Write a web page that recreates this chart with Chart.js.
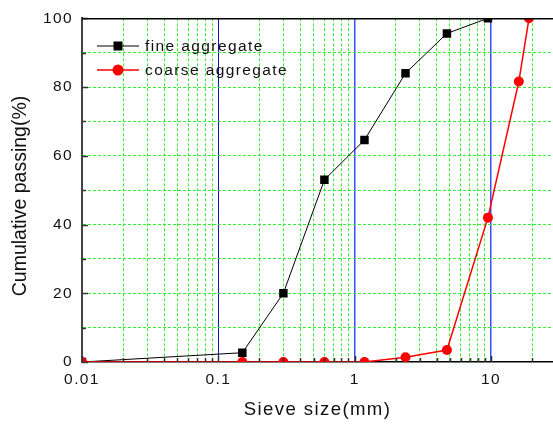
<!DOCTYPE html>
<html>
<head>
<meta charset="utf-8">
<script src="https://cdn.jsdelivr.net/npm/chart.js@4"></script>
<style>
  html, body { margin: 0; padding: 0; background: #fff; }
  #wrap { width: 553px; height: 424px; }
</style>
</head>
<body>
<div id="wrap"><canvas id="chart"></canvas></div>
<script>
// sieve sizes (mm) and cumulative passing (%)
const fineSizes = [0.01, 0.15, 0.3, 0.6, 1.18, 2.36, 4.75, 9.5];
const finePassing = [0, 2.7, 20, 53, 64.6, 84, 95.6, 100];
const coarseSizes = [0.01, 0.15, 0.3, 0.6, 1.18, 2.36, 4.75, 9.5, 16, 19];
const coarsePassing = [0, 0, 0, 0, 0, 1.4, 3.5, 42, 81.6, 100];

// axis ticks
const xTickValues = [
    0.01, 0.02, 0.03, 0.04, 0.05, 0.06, 0.07, 0.08, 0.09,
    0.1, 0.2, 0.3, 0.4, 0.5, 0.6, 0.7, 0.8, 0.9,
    1, 2, 3, 4, 5, 6, 7, 8, 9,
    10, 20
];
const xTickLabels = ['0.01', '0.1', '1', '10'];
const yTickLabels = ['0', '20', '40', '60', '80', '100'];
const yTitle = 'Cumulative passing(%)';

const FONT = '"Liberation Sans", Arial, sans-serif';
const SPACING = '1.4px';

function isDecade(v) {
    const l = Math.log10(v);
    return Math.abs(l - Math.round(l)) < 1e-9;
}

function toPoints(xs, ys) {
    return xs.map((x, i) => ({ x: x, y: ys[i] }));
}

// 文字间距(参考图字体较宽)
const spacingPlugin = {
    id: 'spacing',
    beforeLayout(chart) { chart.ctx.letterSpacing = SPACING; },
    beforeDraw(chart) { chart.ctx.letterSpacing = SPACING; }
};

// 内侧刻度线 + 上边框 + 图例 + 纵轴标题
const framePlugin = {
    id: 'frame',
    afterDatasetsDraw(chart) {
        const ctx = chart.ctx;
        const area = chart.chartArea;
        const xs = chart.scales.x;
        const ys = chart.scales.y;

        ctx.save();
        ctx.strokeStyle = '#333';
        ctx.lineWidth = 1.5;
        xs.ticks.forEach(t => {
            const px = Math.round(xs.getPixelForValue(t.value)) + 0.5;
            const len = isDecade(t.value) ? 6 : 4;
            ctx.beginPath();
            ctx.moveTo(px, area.bottom);
            ctx.lineTo(px, area.bottom - len);
            ctx.stroke();
        });
        ys.ticks.forEach(t => {
            const py = Math.round(ys.getPixelForValue(t.value)) + 0.5;
            const len = t.value % 20 === 0 ? 6 : 4;
            ctx.beginPath();
            ctx.moveTo(area.left, py);
            ctx.lineTo(area.left + len, py);
            ctx.stroke();
        });

        // top frame line
        ctx.strokeStyle = '#000';
        ctx.lineWidth = 1.5;
        ctx.beginPath();
        ctx.moveTo(area.left, area.top + 0.5);
        ctx.lineTo(area.right, area.top + 0.5);
        ctx.stroke();

        // legend
        ctx.font = '15.5px ' + FONT;
        ctx.textBaseline = 'middle';
        ctx.textAlign = 'left';
        chart.data.datasets.forEach((ds, i) => {
            const y = 46 + i * 24;
            ctx.strokeStyle = ds.borderColor;
            ctx.lineWidth = ds.borderWidth;
            ctx.beginPath();
            ctx.moveTo(97, y);
            ctx.lineTo(139, y);
            ctx.stroke();
            ctx.fillStyle = ds.pointBackgroundColor;
            ctx.beginPath();
            if (ds.pointStyle === 'rect') {
                ctx.rect(118 - 4.5, y - 4.5, 9, 9);
            } else {
                ctx.arc(118, y, 5.5, 0, Math.PI * 2);
            }
            ctx.fill();
            ctx.fillStyle = '#111';
            ctx.fillText(ds.label, 145, y + 1);
        });

        // y axis title (vertical, no extra spacing)
        ctx.letterSpacing = '0px';
        ctx.translate(21, 196);
        ctx.rotate(-Math.PI / 2);
        ctx.font = '19.5px ' + FONT;
        ctx.textAlign = 'center';
        ctx.textBaseline = 'middle';
        ctx.fillStyle = '#111';
        ctx.fillText(yTitle, 0, 0);
        ctx.restore();
    }
};

new Chart(document.getElementById('chart'), {
    type: 'line',
    data: {
        datasets: [
            {
                label: 'fine aggregate',
                data: toPoints(fineSizes, finePassing),
                borderColor: '#000',
                borderWidth: 1,
                pointStyle: 'rect',
                pointRadius: 6,
                pointBackgroundColor: '#000',
                pointBorderColor: '#000',
                pointBorderWidth: 0,
                clip: 0,
                order: 2
            },
            {
                label: 'coarse aggregate',
                data: toPoints(coarseSizes, coarsePassing),
                borderColor: '#ff0000',
                borderWidth: 1.5,
                pointStyle: 'circle',
                pointRadius: 5,
                pointBackgroundColor: '#ff0000',
                pointBorderColor: '#ff0000',
                pointBorderWidth: 0,
                clip: 0,
                order: 1
            }
        ]
    },
    options: {
        responsive: true,
        maintainAspectRatio: false,
        animation: false,
        layout: {
            autoPadding: false,
            padding: { top: 16, right: 0, left: 0, bottom: 0 }
        },
        plugins: {
            legend: { display: false },
            tooltip: { enabled: false }
        },
        scales: {
            x: {
                type: 'logarithmic',
                min: 0.01,
                max: 28.5,
                afterBuildTicks(scale) {
                    scale.ticks = xTickValues.map(v => ({ value: v }));
                },
                afterFit(scale) {
                    scale.height = 62;
                    scale.paddingRight = 0;
                    scale.paddingLeft = 0;
                },
                ticks: {
                    autoSkip: false,
                    maxRotation: 0,
                    padding: 8,
                    color: '#111',
                    font: { family: FONT, size: 15.5 },
                    callback(value) {
                        const s = String(+value.toPrecision(6));
                        return xTickLabels.includes(s) ? s : '';
                    }
                },
                grid: {
                    drawTicks: false,
                    tickLength: 0,
                    color(ctx) {
                        const v = ctx.tick ? ctx.tick.value : 0;
                        if (Math.abs(v - 0.01) < 1e-9) return 'rgba(0,0,0,0)';
                        if (Math.abs(v - 0.1) < 1e-9) return '#1010c0';
                        if (isDecade(v)) return '#3a4cff';
                        return '#33ee33';
                    },
                    lineWidth(ctx) {
                        const v = ctx.tick ? ctx.tick.value : 0;
                        if (isDecade(v) && Math.abs(v - 0.1) > 1e-9) return 1.5;
                        return 1;
                    }
                },
                border: {
                    display: true,
                    color: '#000',
                    width: 1.5,
                    dash(ctx) {
                        const v = ctx.tick ? ctx.tick.value : 0;
                        return isDecade(v) ? [] : [3, 2];
                    }
                },
                title: {
                    display: true,
                    text: 'Sieve size(mm)',
                    color: '#111',
                    font: { family: FONT, size: 18.6 },
                    padding: { top: 6, bottom: 3 }
                }
            },
            y: {
                min: 0,
                max: 100,
                afterFit(scale) {
                    scale.width = 82;
                },
                ticks: {
                    stepSize: 10,
                    padding: 9,
                    color: '#111',
                    font: { family: FONT, size: 15.5 },
                    callback(value) {
                        const s = String(value);
                        return yTickLabels.includes(s) ? s : '';
                    }
                },
                grid: {
                    drawTicks: false,
                    tickLength: 0,
                    color(ctx) {
                        const v = ctx.tick ? ctx.tick.value : 0;
                        return (v === 0 || v === 100) ? 'rgba(0,0,0,0)' : '#33ee33';
                    },
                    lineWidth: 1
                },
                border: {
                    display: true,
                    color: '#444',
                    width: 2,
                    dash: [3, 2]
                },
                title: { display: false }
            }
        }
    },
    plugins: [spacingPlugin, framePlugin]
});
</script>
</body>
</html>
